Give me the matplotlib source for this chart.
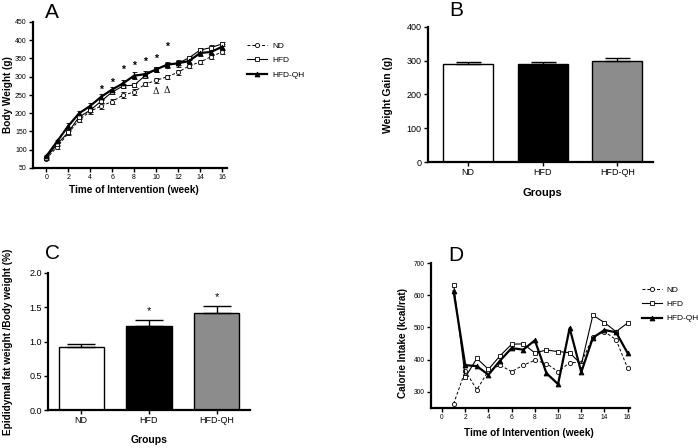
import matplotlib
matplotlib.use("Agg")
import matplotlib.pyplot as plt
import numpy as np
from matplotlib.lines import Line2D

plt.rcParams['font.family'] = ['Liberation Sans', 'DejaVu Sans']

W, H = 698, 448

# ---------------- Data ----------------
weeks_a = list(range(0, 17))
bw_nd = [75, 108, 145, 182, 205, 220, 232, 250, 258, 280, 290, 300, 312, 330, 340, 355, 368]
bw_hfd = [78, 115, 148, 190, 208, 233, 258, 275, 277, 303, 320, 333, 337, 352, 373, 380, 390]
bw_hfdqh = [82, 123, 165, 200, 220, 245, 265, 282, 303, 307, 320, 333, 337, 343, 365, 368, 382]
err_nd = [4, 5, 5, 6, 6, 7, 7, 7, 8, 6, 6, 6, 6, 6, 6, 6, 6]
err_hfd = [4, 5, 5, 5, 5, 5, 5, 6, 5, 6, 6, 6, 6, 6, 6, 6, 6]
err_hfdqh = [4, 5, 7, 7, 7, 8, 8, 9, 10, 9, 6, 8, 9, 12, 9, 9, 8]
star_weeks = [5, 6, 7, 8, 9, 10, 11]
star_y = [265, 284, 318, 331, 341, 348, 381]
delta_weeks = [10, 11]
delta_y = [259, 263]

groups = ['ND', 'HFD', 'HFD-QH']
bar_colors = ['white', 'black', '#8c8c8c']
gain = [290, 291, 298]
gain_err = [6, 5, 10]

fat = [0.92, 1.23, 1.41]
fat_err = [0.05, 0.09, 0.11]
fat_sig = ['', '*', '*']

weeks_d = list(range(1, 17))
cal_nd = [263, 365, 307, 365, 383, 363, 383, 398, 388, 363, 391, 391, 470, 487, 462, 373]
cal_hfd = [633, 345, 404, 370, 412, 448, 449, 421, 430, 425, 422, 385, 538, 515, 487, 514]
cal_hfdqh = [612, 383, 380, 353, 397, 436, 431, 460, 358, 324, 498, 361, 468, 492, 485, 420]

# ---------------- Figure ----------------
fig = plt.figure(figsize=(W / 100, H / 100), dpi=100)


def ax_px(left, top, right, bottom):
    return fig.add_axes([left / W, 1 - bottom / H, (right - left) / W, (bottom - top) / H])


def style(ax, tick_fs):
    for s in ['top', 'right']:
        ax.spines[s].set_visible(False)
    for s in ['left', 'bottom']:
        ax.spines[s].set_linewidth(1.6)
    ax.tick_params(direction='out', length=3, width=1.0, labelsize=tick_fs, pad=1.5)


nd_style = dict(color='black', linestyle=(0, (3, 2)), linewidth=0.7, marker='o',
                markersize=3, markerfacecolor='white', markeredgewidth=0.6)
hfd_style = dict(color='black', linestyle='-', linewidth=0.8, marker='s',
                 markersize=3, markerfacecolor='white', markeredgewidth=0.6)
qh_style = dict(color='black', linestyle='-', linewidth=1.6, marker='^',
                markersize=3.5, markerfacecolor='black', markeredgewidth=0.6)

# ---------------- Panel A ----------------
axA = ax_px(33, 22, 227, 168)
style(axA, 5)
axA.errorbar(weeks_a, bw_nd, yerr=err_nd, capsize=1.8, elinewidth=0.7, capthick=0.7, **nd_style)
axA.errorbar(weeks_a, bw_hfd, yerr=err_hfd, capsize=1.8, elinewidth=0.7, capthick=0.7, **hfd_style)
axA.errorbar(weeks_a, bw_hfdqh, yerr=err_hfdqh, capsize=1.8, elinewidth=0.9, capthick=0.9, **qh_style)
for wk, yv in zip(star_weeks, star_y):
    axA.text(wk, yv, '*', ha='center', va='center', fontsize=7.5, fontweight='bold')
for wk, yv in zip(delta_weeks, delta_y):
    axA.text(wk, yv, 'Δ', ha='center', va='center', fontsize=6.5, family='DejaVu Serif')
axA.set_xlim(-1.2, 16.45)
axA.set_ylim(50, 450)
axA.set_xticks(range(0, 17, 2))
axA.set_yticks(range(50, 451, 50))
axA.set_xlabel('Time of Intervention (week)', fontsize=7.2, fontweight='bold', va='center')
axA.set_ylabel('Body Weight (g)', fontsize=7.2, fontweight='bold', va='center')
axA.xaxis.set_label_coords(0.52, -0.15)
axA.yaxis.set_label_coords(-0.13, 0.5)
fig.text(52 / W, 1 - 12 / H, 'A', fontsize=15, ha='center', va='center')

handles = [Line2D([], [], **nd_style), Line2D([], [], **hfd_style), Line2D([], [], **qh_style)]
fig.legend(handles, groups, loc='upper left', bbox_to_anchor=(240 / W, 1 - 35 / H),
           frameon=False, fontsize=6, handlelength=2.4, labelspacing=0.75, handletextpad=0.6)

# ---------------- Panel B ----------------
axB = ax_px(428, 27, 653, 162)
style(axB, 6.5)
xb = np.arange(len(groups))
axB.bar(xb, gain, width=0.67, color=bar_colors, edgecolor='black', linewidth=1.0)
axB.errorbar(xb, gain, yerr=[[0] * 3, gain_err], fmt='none', ecolor='black',
             elinewidth=1.0, capsize=9, capthick=1.0)
axB.set_xlim(-0.54, 2.48)
axB.set_ylim(0, 400)
axB.set_xticks(xb)
axB.set_xticklabels(groups)
axB.set_yticks(range(0, 401, 100))
axB.set_xlabel('Groups', fontsize=8, fontweight='bold', va='center')
axB.set_ylabel('Weight Gain (g)', fontsize=7.5, fontweight='bold', va='center')
axB.xaxis.set_label_coords(0.51, -0.23)
axB.yaxis.set_label_coords(-0.178, 0.5)
fig.text(456 / W, 1 - 10 / H, 'B', fontsize=15, ha='center', va='center')

# ---------------- Panel C ----------------
axC = ax_px(48, 273, 250, 410)
style(axC, 6.5)
xc = np.arange(len(groups))
axC.bar(xc, fat, width=0.67, color=bar_colors, edgecolor='black', linewidth=1.0)
axC.errorbar(xc, fat, yerr=[[0] * 3, fat_err], fmt='none', ecolor='black',
             elinewidth=1.0, capsize=10, capthick=1.0)
for x, f, e, s in zip(xc, fat, fat_err, fat_sig):
    if s:
        axC.text(x, f + e + 0.13, s, ha='center', va='center', fontsize=8)
axC.set_xlim(-0.49, 2.49)
axC.set_ylim(0, 2.0)
axC.set_xticks(xc)
axC.set_xticklabels(groups)
axC.set_yticks([0.0, 0.5, 1.0, 1.5, 2.0])
axC.set_yticklabels(['0.0', '0.5', '1.0', '1.5', '2.0'])
axC.set_xlabel('Groups', fontsize=7.5, fontweight='bold', va='center')
axC.set_ylabel('Epididymal fat weight /Body weight (%)', fontsize=7.2, fontweight='bold', va='center')
axC.xaxis.set_label_coords(0.5, -0.22)
axC.yaxis.set_label_coords(-0.198, 0.5)
fig.text(52 / W, 1 - 253 / H, 'C', fontsize=15, ha='center', va='center')

# ---------------- Panel D ----------------
axD = ax_px(431, 263, 630, 408)
style(axD, 4.8)
axD.plot(weeks_d, cal_nd, **nd_style)
axD.plot(weeks_d, cal_hfd, **hfd_style)
axD.plot(weeks_d, cal_hfdqh, **qh_style)
axD.set_xlim(-0.95, 16.2)
axD.set_ylim(250, 700)
axD.set_xticks(range(0, 17, 2))
axD.set_yticks(range(300, 701, 100))
axD.set_xlabel('Time of Intervention (week)', fontsize=7.2, fontweight='bold', va='center')
axD.set_ylabel('Calorie Intake (kcal/rat)', fontsize=7.2, fontweight='bold', va='center')
axD.xaxis.set_label_coords(0.49, -0.17)
axD.yaxis.set_label_coords(-0.14, 0.45)
fig.text(456 / W, 1 - 255 / H, 'D', fontsize=15, ha='center', va='center')

handlesD = [Line2D([], [], **nd_style), Line2D([], [], **hfd_style), Line2D([], [], **qh_style)]
fig.legend(handlesD, groups, loc='upper left', bbox_to_anchor=(634 / W, 1 - 279 / H),
           frameon=False, fontsize=6, handlelength=2.4, labelspacing=0.75, handletextpad=0.6)

fig.savefig('out.png', dpi=100)
